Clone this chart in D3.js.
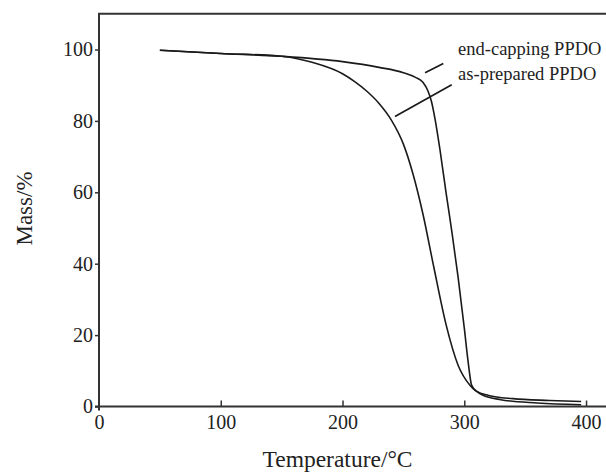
<!DOCTYPE html>
<html>
<head>
<meta charset="utf-8">
<script src="https://cdn.jsdelivr.net/npm/d3@7"></script>
<style>
  body { margin: 0; background: #fff; }
  text { font-family: "Liberation Serif", "Times New Roman", serif; fill: #222; }
</style>
</head>
<body>
<svg id="chart" width="606" height="472"></svg>
<script>
// TGA curves (temperature in °C, mass in %)
var endCapT = [50, 100, 150, 200, 230, 250, 260, 266, 270, 273, 276, 280, 285, 290, 295, 300, 303, 306, 310, 320, 340, 370, 396];
var endCapM = [99.8, 98.9, 98.1, 96.6, 95.0, 93.5, 92.2, 90.8, 88.5, 85.5, 80.5, 72, 60, 48.5, 36, 22, 13, 6, 4.3, 3.1, 2.2, 1.7, 1.4];
var asPrepT = [50, 100, 150, 175, 200, 210, 220, 230, 240, 250, 258, 266, 275, 285, 295, 305, 315, 330, 360, 396];
var asPrepM = [99.8, 98.9, 98.1, 96.4, 93.2, 91.0, 88.3, 84.9, 80.3, 73.5, 65, 54, 39, 23, 11.5, 5.8, 3.2, 1.9, 1.0, 0.5];

var xTicks = [0, 100, 200, 300, 400];
var yTicks = [0, 20, 40, 60, 80, 100];
var labels = ["end-capping PPDO", "as-prepared PPDO"];
// leader lines [t1, m1, t2, m2] in data units
var leaders = [[267.8, 93.5, 282.8, 96.1], [243.1, 81.2, 289.7, 90.1]];

var svg = d3.select("#chart");
var x = d3.scaleLinear().domain([0, 416.4]).range([99, 606]);
var y = d3.scaleLinear().domain([0, 110]).range([406.5, 13.8]);

var axisColor = "#333";

// frame: left axis, bottom axis, top line
svg.append("line").attr("x1", x(0)).attr("x2", x(0)).attr("y1", y(110)).attr("y2", y(0) + 4)
   .attr("stroke", axisColor).attr("stroke-width", 2);
svg.append("line").attr("x1", x(0) - 4).attr("x2", 606).attr("y1", y(0)).attr("y2", y(0))
   .attr("stroke", axisColor).attr("stroke-width", 2);
svg.append("line").attr("x1", x(0) - 1).attr("x2", 606).attr("y1", y(110)).attr("y2", y(110))
   .attr("stroke", axisColor).attr("stroke-width", 2);

var yAxis = svg.append("g")
  .attr("transform", "translate(" + x(0) + ",0)")
  .call(d3.axisLeft(y).tickValues(yTicks).tickSize(4).tickPadding(2));
yAxis.select(".domain").remove();
yAxis.selectAll("line").attr("stroke", axisColor).attr("stroke-width", 1.5);
yAxis.selectAll("text").style("font-size", "20px").attr("fill", "#222");

var xAxis = svg.append("g")
  .attr("transform", "translate(0," + y(0) + ")")
  .call(d3.axisBottom(x).tickValues(xTicks).tickSizeInner(-6).tickSizeOuter(0).tickPadding(8));
xAxis.select(".domain").remove();
xAxis.selectAll("line").attr("stroke", axisColor).attr("stroke-width", 1.5);
xAxis.selectAll(".tick").filter(function(d){ return d === 0; }).select("line").remove();
xAxis.selectAll("text").style("font-size", "20px").attr("fill", "#222");

// axis titles
svg.append("text").attr("x", 337.5).attr("y", 467).attr("text-anchor", "middle")
   .style("font-size", "23.5px").text("Temperature/°C");
svg.append("text").attr("transform", "translate(32,208.5) rotate(-90)").attr("text-anchor", "middle")
   .style("font-size", "23px").text("Mass/%");

var line = d3.line()
  .x(function(d){ return x(d[0]); })
  .y(function(d){ return y(d[1]); })
  .curve(d3.curveMonotoneX);

var series = [
  d3.zip(endCapT, endCapM),
  d3.zip(asPrepT, asPrepM)
];

svg.selectAll("path.curve")
  .data(series)
  .enter()
  .append("path")
  .attr("class", "curve")
  .attr("d", line)
  .attr("fill", "none")
  .attr("stroke", "#1a1a1a")
  .attr("stroke-width", 1.6);

// annotations
svg.selectAll("line.leader")
  .data(leaders)
  .enter()
  .append("line")
  .attr("class", "leader")
  .attr("x1", function(d){ return x(d[0]); })
  .attr("y1", function(d){ return y(d[1]); })
  .attr("x2", function(d){ return x(d[2]); })
  .attr("y2", function(d){ return y(d[3]); })
  .attr("stroke", "#1a1a1a")
  .attr("stroke-width", 1.7);

svg.selectAll("text.lbl")
  .data(labels)
  .enter()
  .append("text")
  .attr("class", "lbl")
  .attr("x", x(294.9))
  .attr("y", function(d, i){ return i === 0 ? y(98.5) : y(91.5); })
  .style("font-size", "18.5px")
  .text(function(d){ return d; });
</script>
</body>
</html>
